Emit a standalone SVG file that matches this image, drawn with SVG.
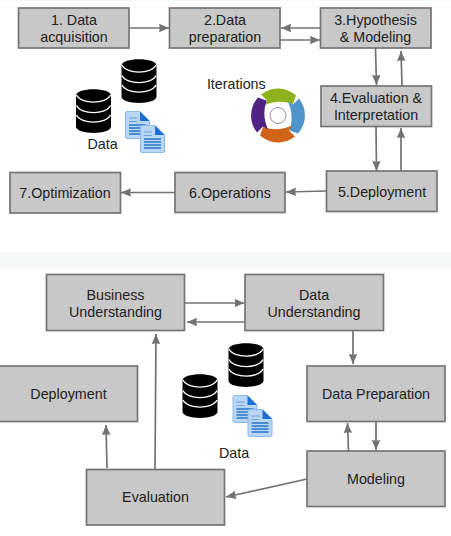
<svg xmlns="http://www.w3.org/2000/svg" xmlns:xlink="http://www.w3.org/1999/xlink" width="451" height="536" viewBox="0 0 451 536">
<style>
.box{fill:#c8c8c8;stroke:#757575;stroke-width:1.7}
text{font-family:"Liberation Sans",Arial,sans-serif;font-size:14.3px;fill:#222;text-anchor:middle}
.c{fill:none;stroke:#727272;stroke-width:1.7;marker-end:url(#a)}
</style>
<defs>
<marker id="a" markerUnits="userSpaceOnUse" markerWidth="11" markerHeight="9" refX="10" refY="4.5" orient="auto"><path d="M0 0.3L10 4.5L0 8.7L0.8 4.5Z" fill="#727272"/></marker>
<g id="db">
<path d="M0 6.5C0 -2 35 -2 35 6.5V37.5C35 46 0 46 0 37.5Z" fill="#000"/>
<path d="M0.5 6C5 15.5 30 15.5 34.5 6M0.5 16.500C5 26 30 26 34.5 16.500M0.5 26C5 35.500 30 35.500 34.5 26" fill="none" stroke="#fff" stroke-width="1.4"/>
</g>
<g id="doc">
<path d="M0.5 2Q0.5 0.5 2 0.5H15L24.5 10V26Q24.5 27.5 23 27.5H2Q0.5 27.5 0.5 26Z" fill="#b9d6f4" stroke="#8ab8e8"/>
<path d="M15 0.5L24.5 10H15Z" fill="#1f6fd0"/>
<path d="M4 7h8M4 10.500h8" stroke="#6f9fd8" stroke-width="1.2"/>
<path d="M4 14h17M4 17h17M4 20h17M4 23h17" stroke="#2a75c8" stroke-width="1.5"/>
</g>
<path id="seg" d="M-17 -21A27 27 0 0 1 18 -20L15 -11.500Q0 -16.500 -14 -10L-11 -15Z"/>
</defs>
<rect width="451" height="536" fill="#fff"/>
<rect width="451" height="1" fill="#effbfd"/>
<rect y="252" width="451" height="17" fill="#f6f7f7"/>
<g id="connectors">
<path class="c" d="M129 28H169"/>
<path class="c" d="M320 28H281"/>
<path class="c" d="M280 40H320"/>
<path class="c" d="M375.500 48L376.500 85"/>
<path class="c" d="M402 86L401 51"/>
<path class="c" d="M376 126.500L376.500 171"/>
<path class="c" d="M401 171L401 128"/>
<path class="c" d="M326 191L286 192"/>
<path class="c" d="M175 192.500H121"/>
<path class="c" d="M184.500 303H244.500"/>
<path class="c" d="M245 322H187"/>
<path class="c" d="M353 330.500V364"/>
<path class="c" d="M376 421.500V450"/>
<path class="c" d="M348.500 451L347.500 423"/>
<path class="c" d="M307 479L226 497"/>
<path class="c" d="M155 469L156 334"/>
<path class="c" d="M107 468L106 425"/>
</g>
<g id="n1"><rect class="box" x="18.500" y="8" width="110.500" height="40"/><text x="74" y="25">1. Data</text><text x="74" y="42">acquisition</text></g>
<g id="n2"><rect class="box" x="169.500" y="8" width="110.500" height="40"/><text x="225" y="25">2.Data</text><text x="225" y="42">preparation</text></g>
<g id="n3"><rect class="box" x="320.500" y="8" width="110.500" height="40"/><text x="375.500" y="25">3.Hypothesis</text><text x="375.500" y="42">&amp; Modeling</text></g>
<g id="n4"><rect class="box" x="321" y="86" width="110.500" height="40.500"/><text x="376" y="103">4.Evaluation &amp;</text><text x="376" y="119.500">Interpretation</text></g>
<g id="n5"><rect class="box" x="326.500" y="171" width="110.500" height="40.500"/><text x="382" y="196.500">5.Deployment</text></g>
<g id="n6"><rect class="box" x="175" y="172.500" width="110" height="40"/><text x="230" y="197.500">6.Operations</text></g>
<g id="n7"><rect class="box" x="10" y="172.500" width="110.500" height="40.500"/><text x="65" y="197.500">7.Optimization</text></g>
<g id="data-a"><use xlink:href="#db" href="#db" x="121.500" y="59"/><use xlink:href="#db" href="#db" x="76" y="89"/><use xlink:href="#doc" href="#doc" x="125" y="111"/><use xlink:href="#doc" href="#doc" x="140" y="125"/><text x="102.500" y="149">Data</text></g>
<g id="iterations"><text x="236.300" y="89">Iterations</text>
<use href="#seg" xlink:href="#seg" transform="translate(278 115.500)" fill="#8fb31f"/>
<use href="#seg" xlink:href="#seg" transform="translate(278 115.500) rotate(90)" fill="#4f95cc"/>
<use href="#seg" xlink:href="#seg" transform="translate(278 115.500) rotate(180)" fill="#d0651a"/>
<use href="#seg" xlink:href="#seg" transform="translate(278 115.500) rotate(270)" fill="#4f2283"/>
<circle cx="278" cy="115.500" r="8" fill="#fff" stroke="#9a8aa8"/>
</g>
<g id="m1"><rect class="box" x="46.500" y="274.500" width="138" height="56"/><text x="115.500" y="300">Business</text><text x="115.500" y="316.500">Understanding</text></g>
<g id="m2"><rect class="box" x="245" y="274.500" width="138.500" height="56"/><text x="314" y="300">Data</text><text x="314" y="316.500">Understanding</text></g>
<g id="m3"><rect class="box" x="-1" y="366" width="138.500" height="55.500"/><text x="68.500" y="399">Deployment</text></g>
<g id="m4"><rect class="box" x="307" y="366" width="138" height="55.500"/><text x="376" y="399">Data Preparation</text></g>
<g id="m5"><rect class="box" x="307" y="451" width="138" height="55.500"/><text x="376" y="484">Modeling</text></g>
<g id="m6"><rect class="box" x="86.500" y="469.500" width="138" height="55.500"/><text x="155.500" y="502">Evaluation</text></g>
<g id="data-b"><use href="#db" xlink:href="#db" x="228.500" y="343"/><use href="#db" xlink:href="#db" x="182.500" y="374"/><use href="#doc" xlink:href="#doc" x="232.500" y="395"/><use href="#doc" xlink:href="#doc" x="247.500" y="409"/><text x="234" y="458">Data</text></g>
</svg>
